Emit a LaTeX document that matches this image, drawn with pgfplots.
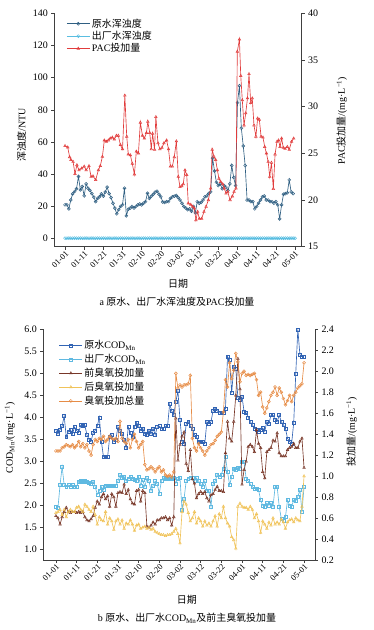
\documentclass[border=0pt]{standalone}
\usepackage{fontspec}
\setmainfont{Liberation Serif}
\newfontfamily\cjk{Noto Sans CJK SC}
\usepackage{pgfplots}
\pgfplotsset{compat=1.18}
\definecolor{rawT}{RGB}{47,95,130}
\definecolor{effT}{RGB}{90,190,225}
\definecolor{pac}{RGB}{225,60,60}
\definecolor{rawC}{RGB}{50,100,180}
\definecolor{effC}{RGB}{95,185,225}
\definecolor{pre}{RGB}{120,55,40}
\definecolor{post}{RGB}{240,195,90}
\definecolor{tot}{RGB}{230,140,70}
\pgfplotsset{
  base/.style={scale only axis, anchor=south west, tick align=outside,
    axis line style={black!75, line width=0.6pt}, tick style={black!75, line width=0.5pt},
    major tick length=3pt, font=\fontsize{10}{12}\selectfont,
    /pgf/number format/assume math mode=true, clip=false,
    legend style={draw=none, fill=none, font=\fontsize{10}{11}\selectfont, row sep=-1.5pt, inner sep=1pt},
    legend cell align=left,
    legend image code/.code={\draw[mark repeat=2,mark phase=2] plot coordinates {(0cm,0cm) (0.4cm,0cm) (0.8cm,0cm)};}},
  datex/.style={xtick={0,10,...,120},
    xticklabels={01-01,01-11,01-21,01-31,02-10,02-20,03-02,03-12,03-22,04-01,04-11,04-21,05-01},
    x tick label style={rotate=45, anchor=north east, inner sep=0.5pt, font=\fontsize{8.5}{9}\selectfont}},
  sty/.style 2 args={color=#1, line width=0.65pt, mark=#2, mark size=1.5pt, mark options={solid, fill=white, line width=0.5pt}},
}
\begin{document}
\begin{tikzpicture}
\path[use as bounding box] (0,0) rectangle (374bp,630bp);
% ---------------- top chart ----------------
\begin{axis}[base, datex, at={(54.3bp,383.3bp)}, width=247.4bp, height=233.4bp,
  axis x line*=bottom, axis y line*=left, xmin=-5.6, xmax=123.5, ymin=-5, ymax=140,
  ytick={0,20,...,140},
  xlabel={\cjk 日期}, xlabel style={at={(axis description cs:0.5,-0.157)}, anchor=center},
  ylabel={{\cjk 浑浊度}/NTU}, ylabel style={at={(axis description cs:-0.132,0.48)}, anchor=center}]
\addplot[sty={rawT}{o}] coordinates {
(0,21)(1,21)(2,18.5)(3,24)(4,27.8)(5,29.3)(6,31)(7,38.6)(8,30.3)(9,32.4)(10,26.6)(11,34)(12,31.3)(13,30)(14,28)(15,25.8)(16,23)(17,25)(18,26)(19,27.8)
(20,26.4)(21,29)(22,32)(23,28)(24,25.5)(25,22)(26,19)(27,15.4)(28,18)(29,20)(30,21)(31,31.3)(32,14.2)(33,18.3)(34,19)(35,20)(36,19)(37,20)(38,21)(39,21.5)
(40,21)(41,22)(42,23)(43,28.2)(44,25)(45,26.4)(46,27.6)(47,28.9)(48,29.5)(49,27.6)(50,26)(51,22.8)(52,22.5)(53,23)(54,23)(55,25)(56,26)(57,26.4)(58,26.8)(59,25.5)
(60,24)(61,22)(62,20)(63,19)(64,18)(65,18.5)(66,17)(67,20)(68,16)(69,23)(70,22)(71,22.5)(72,24)(73,26)(74,26.5)(75,28)(76,29)(77,50)(78,42)(79,35)
(80,33)(81,34)(82,31)(83,33)(84,32)(85,30)(86,34)(87,45.4)(88,38)(89,33)(90,84.5)(91,95)(92,68.6)(93,57.6)(94,45.4)(95,24)(96,24)(97,23)(98,23)(99,18.5)
(100,20)(101,22)(102,24)(103,26)(104,26.5)(105,24)(106,24)(107,23)(108,23)(109,22)(110,23)(111,21)(112,12.3)(113,21)(114,27.6)(115,28)(116,28.5)(117,36.5)(118,29)(119,28)};
\addplot[sty={effT}{o}] coordinates {
(0,0.3)(1,0.3)(2,0.3)(3,0.3)(4,0.3)(5,0.3)(6,0.3)(7,0.3)(8,0.3)(9,0.3)(10,0.3)(11,0.3)(12,0.3)(13,0.3)(14,0.3)(15,0.3)(16,0.3)(17,0.3)(18,0.3)(19,0.3)
(20,0.3)(21,0.3)(22,0.3)(23,0.3)(24,0.3)(25,0.3)(26,0.3)(27,0.3)(28,0.3)(29,0.3)(30,0.3)(31,0.3)(32,0.3)(33,0.3)(34,0.3)(35,0.3)(36,0.3)(37,0.3)(38,0.3)(39,0.3)
(40,0.3)(41,0.3)(42,0.3)(43,0.3)(44,0.3)(45,0.3)(46,0.3)(47,0.3)(48,0.3)(49,0.3)(50,0.3)(51,0.3)(52,0.3)(53,0.3)(54,0.3)(55,0.3)(56,0.3)(57,0.3)(58,0.3)(59,0.3)
(60,0.3)(61,0.3)(62,0.3)(63,0.3)(64,0.3)(65,0.3)(66,0.3)(67,0.3)(68,0.3)(69,0.3)(70,0.3)(71,0.3)(72,0.3)(73,0.3)(74,0.3)(75,0.3)(76,0.3)(77,0.3)(78,0.3)(79,0.3)
(80,0.3)(81,0.3)(82,0.3)(83,0.3)(84,0.3)(85,0.3)(86,0.3)(87,0.3)(88,0.3)(89,0.3)(90,0.3)(91,0.3)(92,0.3)(93,0.3)(94,0.3)(95,0.3)(96,0.3)(97,0.3)(98,0.3)(99,0.3)
(100,0.3)(101,0.3)(102,0.3)(103,0.3)(104,0.3)(105,0.3)(106,0.3)(107,0.3)(108,0.3)(109,0.3)(110,0.3)(111,0.3)(112,0.3)(113,0.3)(114,0.3)(115,0.3)(116,0.3)(117,0.3)(118,0.3)(119,0.3)(120,0.3)};
\end{axis}
\begin{axis}[base, at={(54.3bp,383.3bp)}, width=247.4bp, height=233.4bp,
  axis x line=none, axis y line*=right, xmin=-5.6, xmax=123.5, ymin=15, ymax=40,
  ytick={15,20,...,40},
  ylabel={PAC{\cjk 投加量}/(mg·L\textsuperscript{−1})},
  ylabel style={at={(axis description cs:1.162,0.54)}, anchor=center, rotate=0},
  legend style={at={(0.045,0.99)}, anchor=north west}]
\addlegendimage{sty={rawT}{o}}\addlegendentry{\cjk 原水浑浊度}
\addlegendimage{sty={effT}{o}}\addlegendentry{\cjk 出厂水浑浊度}
\addplot[sty={pac}{triangle}] coordinates {
(0,25.8)(1.4,25.65)(2.4,24.6)(3.1,24.3)(4.2,24.1)(5.2,22.8)(6.2,23.75)(7.3,23.2)(8.7,23.4)(10,23.6)(11,23.2)(12.5,23.65)(13.6,22.5)(14.6,22.55)(16,22.15)
(17.4,23.2)(18.4,23.65)(19.5,24.65)(20.5,26.4)(21.6,26.25)(22.6,26.4)(23.6,26.6)(24.7,26.7)(25.7,26.5)(26.8,26.9)(27.8,26.9)(28.9,25.9)(30,25.45)(31.2,31.2)
(32.2,26.8)(33,24.9)(34.1,24.8)(35.1,23.9)(36.2,22.75)(37.2,25.2)(38.3,25.0)(39.3,28.3)(40.4,26.9)(41.4,26.6)(42.5,27.2)(43.2,28.4)(44.2,27.2)(45,25.45)
(45.7,27.1)(46.7,25.4)(47.4,28.9)(48.5,26.1)(49.5,25.45)(50.6,25.6)(51.6,26.1)(53,26.4)(54,25.45)(55,23.6)(56,23.6)(57,24.6)(58.1,26.3)(59.1,22.5)(60,21.4)
(60.9,21.5)(61.7,21.7)(62.6,23.2)(63.5,22.7)(64.3,19.65)(65.6,19.5)(66.6,19.3)(67.5,19.1)(68.3,17.85)(69.2,18.75)(70.1,18.0)(71.3,18.0)(72.5,18.75)(73.6,19.3)
(74.8,20.0)(76,21.25)(76.8,25.4)(77.7,24.65)(78.6,24.3)(79.5,23.2)(80.3,22.3)(81.2,21.95)(82.3,21.7)(83.1,21.25)(84,20.7)(84.9,20.9)(86.1,20.0)(87.3,20.4)
(88.2,20.9)(89.2,21.25)(89.9,35.9)(91,37.2)(91.7,33.3)(92.5,30.7)(93.4,28.0)(94.3,29.3)(95.2,30.9)(96,33.5)(96.9,30.4)(97.7,30.9)(98.6,28.0)(99.6,26.8)
(100.5,28.75)(101.4,28.6)(102.3,26.8)(103.3,26.7)(104.2,25.7)(105.1,25.0)(106,24.1)(106.8,22.5)(107.7,24.0)(108.7,21.2)(109.6,24.9)(110.6,26.25)(111.4,26.4)
(112.2,25.7)(113,26.6)(113.9,25.6)(114.8,25.5)(116,25.7)(117,25.4)(118.2,26.25)(119.3,26.6)};
\addlegendentry{PAC{\cjk 投加量}}
\end{axis}
\node[font=\fontsize{10}{12}\selectfont] at (177bp,328.3bp) {a {\cjk 原水、出厂水浑浊度及}PAC{\cjk 投加量}};
% ---------------- bottom chart ----------------
\begin{axis}[base, datex, at={(43.3bp,70bp)}, width=271.7bp, height=230.7bp,
  axis x line*=bottom, axis y line*=left, xmin=-6.1, xmax=125.3, ymin=0.757, ymax=6.0,
  ytick={1.0,1.5,2.0,2.5,3.0,3.5,4.0,4.5,5.0,5.5,6.0},
  yticklabel style={/pgf/number format/.cd, fixed, fixed zerofill, precision=1},
  xlabel={\cjk 日期}, xlabel style={at={(axis description cs:0.528,-0.173)}, anchor=center},
  ylabel={COD\textsubscript{Mn}/(mg·L\textsuperscript{−1})}, ylabel style={at={(axis description cs:-0.123,0.53)}, anchor=center}]
\addplot[sty={rawC}{square}] coordinates {
(0,3.70)(1,3.62)(2,3.72)(3,3.80)(4,4.03)(5,3.55)(6,3.68)(7,3.72)(8,3.62)(9,3.78)(10,3.70)(11,3.65)(12,3.82)(13,3.80)(14,3.82)(15,3.60)(16,3.50)(17,3.45)(18,3.65)(19,3.70)
(20,3.80)(21,4.00)(22,3.45)(23,3.10)(24,3.10)(25,3.10)(26,3.55)(27,3.60)(28,3.45)(29,3.50)(30,3.78)(31,3.70)(32,3.62)(33,3.50)(34,3.30)(35,3.78)(36,3.65)(37,3.55)(38,3.78)(39,3.88)
(40,3.80)(41,3.70)(42,3.75)(43,3.62)(44,3.60)(45,3.70)(46,3.62)(47,3.75)(48,3.60)(49,3.78)(50,3.80)(51,3.75)(52,3.75)(53,3.80)(54,3.80)(55,4.30)(56,4.15)(57,4.05)(58,4.35)(59,4.60)
(60,3.95)(61,3.45)(62,3.40)(63,3.85)(64,3.90)(65,3.80)(66,3.75)(67,3.60)(68,3.55)(69,3.45)(70,3.45)(71,3.45)(72,3.40)(73,3.90)(74,3.85)(75,3.90)(76,4.15)(77,4.20)(78,4.15)(79,4.10)
(80,4.10)(81,4.10)(82,4.20)(83,5.38)(84,5.30)(85,4.55)(86,5.15)(87,5.10)(88,4.45)(89,4.40)(90,4.47)(91,4.13)(92,4.10)(93,4.00)(94,3.90)(95,3.83)(96,3.75)(97,3.72)(98,3.68)(99,3.72)
(100,3.76)(101,3.68)(102,3.90)(103,3.85)(104,4.05)(105,4.05)(106,3.95)(107,3.90)(108,4.05)(109,3.90)(110,3.83)(111,3.75)(112,3.52)(113,3.45)(114,3.41)(115,3.87)(116,5.00)(117,6.00)(118,5.42)(119,5.38)(120,5.38)};
\addplot[sty={effC}{square}] coordinates {
(0,1.97)(1,1.95)(2,2.46)(3,2.88)(4,2.46)(5,2.42)(6,2.46)(7,2.43)(8,2.46)(9,2.42)(10,2.42)(11,2.54)(12,2.55)(13,2.53)(14,2.55)(15,2.53)(16,2.51)(17,2.50)(18,2.54)(19,2.42)
(20,2.25)(21,2.33)(22,2.42)(23,2.35)(24,2.45)(25,2.44)(26,2.45)(27,2.45)(28,2.45)(29,2.45)(30,2.55)(31,2.69)(32,2.62)(33,2.65)(34,2.55)(35,2.60)(36,2.65)(37,2.60)(38,2.58)(39,2.55)
(40,2.65)(41,2.45)(42,2.58)(43,2.42)(44,2.62)(45,2.55)(46,2.33)(47,2.45)(48,2.55)(49,2.48)(50,2.27)(51,2.55)(52,2.62)(53,2.60)(54,2.60)(55,2.60)(56,2.60)(57,2.62)(58,2.50)(59,2.60)
(60,2.62)(61,1.90)(62,2.16)(63,2.55)(64,2.60)(65,2.63)(66,2.62)(67,2.55)(68,2.62)(69,2.55)(70,2.48)(71,2.42)(72,2.55)(73,2.33)(74,2.33)(75,1.97)(76,2.48)(77,2.55)(78,2.70)(79,2.65)
(80,2.70)(81,2.84)(82,3.10)(83,2.76)(84,2.46)(85,2.65)(86,2.84)(87,2.80)(88,2.86)(89,2.84)(90,2.98)(91,2.98)(92,2.61)(93,2.55)(94,2.48)(95,2.42)(96,2.38)(97,2.38)(98,2.35)(99,2.12)
(100,2.00)(101,1.97)(102,2.05)(103,2.00)(104,2.05)(105,1.97)(106,2.42)(107,2.42)(108,1.97)(109,1.70)(110,1.66)(111,1.73)(112,2.12)(113,2.00)(114,1.97)(115,2.12)(116,2.10)(117,2.20)(118,2.35)(119,1.85)(120,2.42)};
\end{axis}
\begin{axis}[base, at={(43.3bp,70bp)}, width=271.7bp, height=230.7bp,
  axis x line=none, axis y line*=right, xmin=-6.1, xmax=125.3, ymin=0.2, ymax=2.4,
  ytick={0.2,0.4,0.6,0.8,1.0,1.2,1.4,1.6,1.8,2.0,2.2,2.4},
  yticklabel style={/pgf/number format/.cd, fixed, fixed zerofill, precision=1},
  ylabel={{\cjk 投加量}/(mg·L\textsuperscript{−1})},
  ylabel style={at={(axis description cs:1.135,0.555)}, anchor=center, rotate=0},
  legend style={at={(0.054,0.965)}, anchor=north west, row sep=0pt}]
\addlegendimage{sty={rawC}{square}}\addlegendentry{{\cjk 原水}COD\textsubscript{Mn}}
\addlegendimage{sty={effC}{square}}\addlegendentry{{\cjk 出厂水}COD\textsubscript{Mn}}
\addplot[sty={pre}{triangle}] coordinates {
(0,0.62)(1,0.60)(2,0.54)(3,0.61)(4,0.66)(5,0.70)(6,0.66)(7,0.65)(8,0.66)(9,0.66)(10,0.65)(11,0.66)(12,0.65)(13,0.66)(14,0.61)(15,0.58)(16,0.57)(17,0.59)(18,0.62)(19,0.70)
(20,0.76)(21,0.73)(22,0.80)(23,0.83)(24,0.78)(25,0.81)(26,0.71)(27,0.83)(28,0.80)(29,0.71)(30,0.84)(31,0.85)(32,0.84)(33,0.92)(34,0.83)(35,0.87)(36,0.78)(37,0.74)(38,0.73)(39,0.86)
(40,0.87)(41,0.76)(42,0.86)(43,0.84)(44,0.52)(45,0.51)(46,0.53)(47,0.56)(48,0.54)(49,0.58)(50,0.58)(51,0.60)(52,0.60)(53,0.61)(54,0.58)(55,0.60)(56,0.53)(57,0.61)(58,1.55)(59,1.15)
(60,1.30)(61,1.38)(62,1.42)(63,1.12)(64,1.05)(65,1.25)(66,0.97)(67,0.93)(68,0.79)(69,0.83)(70,0.85)(71,0.83)(72,0.85)(73,0.79)(74,0.76)(75,0.82)(76,0.83)(77,0.87)(78,0.90)(79,0.86)
(80,0.86)(81,0.85)(82,1.22)(83,1.52)(84,1.36)(85,1.33)(86,1.52)(87,1.77)(88,2.12)(89,1.83)(90,0.92)(91,1.06)(92,1.14)(93,1.28)(94,1.30)(95,1.28)(96,1.23)(97,1.44)(98,1.31)(99,1.27)
(100,1.04)(101,0.98)(102,1.23)(103,1.25)(104,1.27)(105,1.34)(106,1.33)(107,1.41)(108,1.22)(109,1.19)(110,1.19)(111,1.19)(112,1.25)(113,1.27)(114,1.28)(115,1.31)(116,1.27)(117,1.27)(118,1.33)(119,1.36)(120,1.08)};
\addlegendentry{\cjk 前臭氧投加量}
\addplot[sty={post}{triangle}] coordinates {
(0,0.65)(1,0.66)(2,0.68)(3,0.63)(4,0.68)(5,0.61)(6,0.66)(7,0.68)(8,0.66)(9,0.66)(10,0.70)(11,0.71)(12,0.68)(13,0.66)(14,0.73)(15,0.71)(16,0.68)(17,0.66)(18,0.71)(19,0.63)
(20,0.54)(21,0.61)(22,0.58)(23,0.57)(24,0.66)(25,0.54)(26,0.60)(27,0.57)(28,0.49)(29,0.57)(30,0.59)(31,0.54)(32,0.58)(33,0.50)(34,0.55)(35,0.54)(36,0.58)(37,0.54)(38,0.48)(39,0.53)
(40,0.54)(41,0.50)(42,0.51)(43,0.52)(44,0.50)(45,0.51)(46,0.49)(47,0.50)(48,0.47)(49,0.46)(50,0.45)(51,0.44)(52,0.44)(53,0.43)(54,0.44)(55,0.44)(56,0.45)(57,0.47)(58,0.50)(59,0.45)
(60,0.36)(61,0.66)(62,0.76)(63,0.73)(64,0.65)(65,0.57)(66,0.60)(67,0.66)(68,0.55)(69,0.60)(70,0.57)(71,0.52)(72,0.57)(73,0.53)(74,0.55)(75,0.52)(76,0.57)(77,0.62)(78,0.52)(79,0.64)
(80,0.60)(81,0.71)(82,0.60)(83,0.55)(84,0.52)(85,0.42)(86,0.39)(87,0.31)(88,0.71)(89,0.74)(90,0.71)(91,0.70)(92,0.70)(93,0.68)(94,0.71)(95,0.68)(96,0.60)(97,0.64)(98,0.57)(99,0.46)
(100,0.57)(101,0.54)(102,0.50)(103,0.56)(104,0.53)(105,0.60)(106,0.54)(107,0.56)(108,0.54)(109,0.59)(110,0.56)(111,0.50)(112,0.56)(113,0.58)(114,0.59)(115,0.56)(116,0.60)(117,0.58)(118,0.57)(119,0.71)(120,1.00)};
\addlegendentry{\cjk 后臭氧投加量}
\addplot[sty={tot}{o}] coordinates {
(0,1.24)(1,1.24)(2,1.24)(3,1.27)(4,1.28)(5,1.30)(6,1.29)(7,1.28)(8,1.30)(9,1.27)(10,1.29)(11,1.33)(12,1.28)(13,1.31)(14,1.27)(15,1.30)(16,1.24)(17,1.20)(18,1.30)(19,1.35)
(20,1.33)(21,1.36)(22,1.35)(23,1.38)(24,1.33)(25,1.35)(26,1.38)(27,1.36)(28,1.35)(29,1.36)(30,1.33)(31,1.52)(32,1.36)(33,1.33)(34,1.31)(35,1.35)(36,1.27)(37,1.35)(38,1.40)(39,1.33)
(40,1.27)(41,1.30)(42,1.33)(43,1.11)(44,1.06)(45,1.07)(46,1.09)(47,1.07)(48,1.04)(49,1.07)(50,1.09)(51,1.04)(52,1.06)(53,1.01)(54,0.995)(55,1.01)(56,0.99)(57,1.04)(58,1.98)(59,1.84)
(60,1.87)(61,1.85)(62,1.87)(63,1.87)(64,1.88)(65,1.96)(66,1.36)(67,1.27)(68,1.24)(69,1.31)(70,1.27)(71,1.24)(72,1.20)(73,1.24)(74,1.27)(75,1.30)(76,1.31)(77,1.34)(78,1.38)(79,1.40)
(80,1.42)(81,1.61)(82,1.92)(83,1.85)(84,2.08)(85,1.93)(86,2.01)(87,2.17)(88,2.09)(89,1.90)(90,1.98)(91,2.00)(92,1.96)(93,1.97)(94,1.96)(95,1.97)(96,1.98)(97,1.92)(98,1.77)(99,1.80)
(100,1.66)(101,1.60)(102,1.65)(103,1.71)(104,1.77)(105,1.80)(106,1.85)(107,1.77)(108,1.84)(109,1.80)(110,1.74)(111,1.68)(112,1.72)(113,1.77)(114,1.71)(115,1.77)(116,1.80)(117,1.84)(118,1.86)(119,1.88)(120,2.08)};
\addlegendentry{\cjk 臭氧投加总量}
\end{axis}
\node[font=\fontsize{10}{12}\selectfont] at (187bp,11.7bp) {b {\cjk 原水、出厂水}COD\textsubscript{Mn}{\cjk 及前主臭氧投加量}};
\end{tikzpicture}
\end{document}
